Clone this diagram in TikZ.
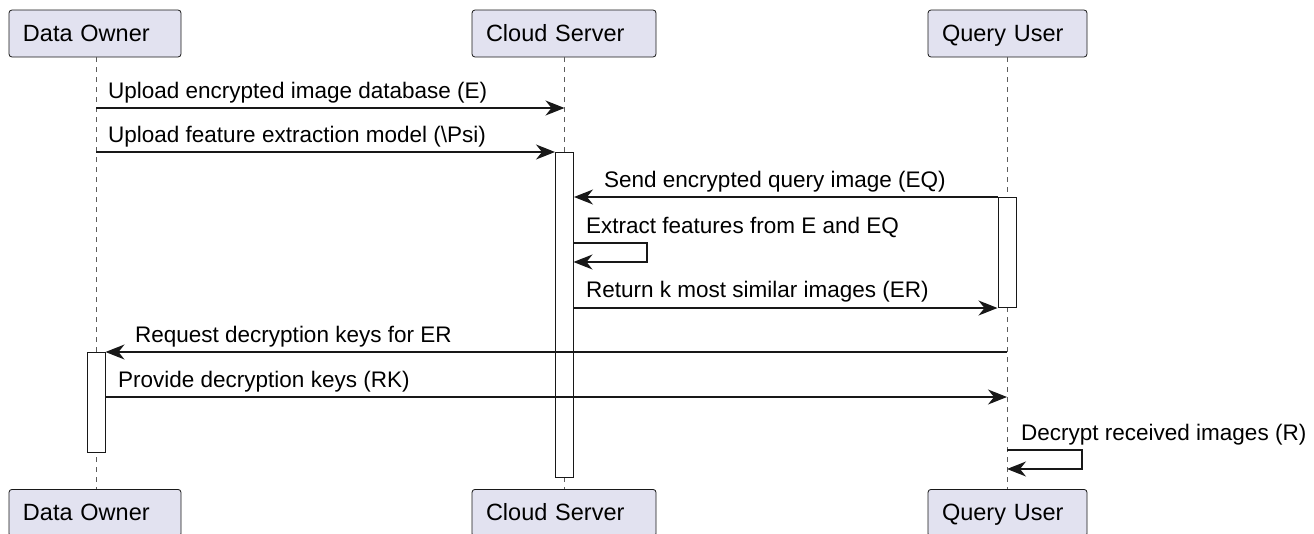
\documentclass[tikz,border=0pt]{standalone}
\usepackage{fontspec}
\setmainfont{Liberation Sans}
\usetikzlibrary{arrows.meta}
\definecolor{boxfill}{HTML}{E2E2F0}
\definecolor{ink}{HTML}{181818}
\begin{document}
\begin{tikzpicture}[x=1pt,y=-1pt,
  participant/.style={draw=ink, fill=boxfill, rounded corners=3pt, line width=0.8pt,
    minimum height=47pt, inner ysep=0pt, inner xsep=14pt, align=left,
    text height=19pt, text depth=3pt,
    font=\fontsize{23.5}{27}\selectfont, text=black},
  lifeline/.style={draw=ink!70, line width=0.7pt, dash pattern=on 5pt off 5pt},
  actbar/.style={draw=ink, fill=white, line width=1pt, minimum width=18pt, inner sep=0pt, anchor=north},
  msg/.style={draw=ink, line width=1.2pt, -{Stealth[length=19pt, width=15pt, inset=6pt]}},
  lbl/.style={anchor=base west, inner sep=0pt, font=\fontsize{22.5}{26}\selectfont, text=black}
]
\useasboundingbox (0,0) rectangle (1314,533);
% participants
\node[participant, text width=144pt] (doT) at (95,33.5) {Data Owner};
\node[participant, text width=156pt] (csT) at (564,33.5) {Cloud Server};
\node[participant, text width=131pt] (quT) at (1007.5,33.5) {Query User};
\node[participant, text width=144pt, anchor=north] (doB) at (95,489) {Data Owner};
\node[participant, text width=156pt, anchor=north] (csB) at (564,489) {Cloud Server};
\node[participant, text width=131pt, anchor=north] (quB) at (1007.5,489) {Query User};
% lifeline coordinates
\coordinate (doL1) at (96,57); \coordinate (doL2) at (96,489);
\coordinate (csL1) at (564.5,57); \coordinate (csL2) at (564.5,489);
\coordinate (quL1) at (1007,57); \coordinate (quL2) at (1007,489);
\draw[lifeline] (doL1) -- (doL2);
\draw[lifeline] (csL1) -- (csL2);
\draw[lifeline] (quL1) -- (quL2);
% activation bars
\node[actbar, minimum height=325pt] (csA) at (564.5,152) {};
\node[actbar, minimum height=110pt] (quA) at (1007,197) {};
\node[actbar, minimum height=100pt] (doA) at (96,352) {};
% message 1
\coordinate (m1a) at (96,108); \coordinate (m1b) at (564.5,108);
\draw[msg] (m1a) -- (m1b);
\node[lbl] (t1) at (108,98) {Upload encrypted image database (E)};
% message 2
\coordinate (m2a) at (96,152);
\draw[msg] (m2a) -- (csA.north west);
\node[lbl] (t2) at (108,142) {Upload feature extraction model (\textbackslash Psi)};
% message 3
\draw[msg] (quA.north west) -- (csA.east |- quA.north);
\node[lbl] (t3) at (604,187) {Send encrypted query image (EQ)};
% message 4 (self)
\coordinate (m4a) at (573.5,243); \coordinate (m4b) at (647,243);
\coordinate (m4c) at (647,262); \coordinate (m4d) at (573.5,262);
\draw[msg] (m4a) -- (m4b) -- (m4c) -- (m4d);
\node[lbl] (t4) at (586,233) {Extract features from E and EQ};
% message 5
\draw[msg] (csA.east |- quA.south) -- (quA.south west);
\node[lbl] (t5) at (586,297) {Return k most similar images (ER)};
% message 6
\coordinate (m6a) at (1007,352);
\draw[msg] (m6a) -- (doA.north east);
\node[lbl] (t6) at (135,342) {Request decryption keys for ER};
% message 7
\coordinate (m7a) at (105,397); \coordinate (m7b) at (1007,397);
\draw[msg] (m7a) -- (m7b);
\node[lbl] (t7) at (118,387) {Provide decryption keys (RK)};
% message 8 (self)
\coordinate (m8a) at (1007,450); \coordinate (m8b) at (1082,450);
\coordinate (m8c) at (1082,469); \coordinate (m8d) at (1007,469);
\draw[msg] (m8a) -- (m8b) -- (m8c) -- (m8d);
\node[lbl] (t8) at (1021,440) {Decrypt received images (R)};
\end{tikzpicture}
\end{document}
